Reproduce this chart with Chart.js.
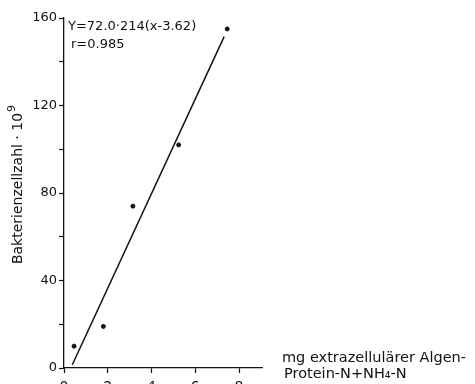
<!DOCTYPE html>
<html>
<head>
<meta charset="utf-8">
<script src="https://cdn.jsdelivr.net/npm/chart.js@4"></script>
<style>
  html, body { margin: 0; padding: 0; background: #fff; }
  canvas { display: block; }
</style>
</head>
<body>
<canvas id="chart" width="475" height="384"></canvas>
<script>
// measured points (x: mg N, y: cells 10^9)
const xValues = [0.46, 1.8, 3.15, 5.24, 7.46];
const yValues = [10, 19, 74, 102, 155];

// regression line end points
const lineX = [0.38, 7.32];
const lineY = [1.5, 151.5];

const xTicks = [0, 2, 4, 6, 8];
const yTicks = [0, 20, 40, 60, 80, 100, 120, 140, 160];
const yLabelled = [0, 40, 80, 120, 160];

const equationText = "Y=72.0·214(x-3.62)";
const rText = "r=0.985";
const yTitle = "Bakterienzellzahl · 10";
const yTitleSup = "9";
const xTitleLines = ["mg extrazellulärer Algen-", "Protein-N+NH₄-N"];

const font = "'DejaVu Sans', Arial, sans-serif";

const textPlugin = {
  id: "texts",
  afterDraw(chart) {
    const c = chart.ctx;
    c.save();
    c.fillStyle = "#111";
    c.textBaseline = "alphabetic";
    c.textAlign = "left";
    c.font = "13px " + font;
    c.fillText(equationText, 68, 30);
    c.fillText(rText, 71, 48);
    c.font = "14.5px " + font;
    c.fillText(xTitleLines[0], 282, 362);
    c.fillText(xTitleLines[1], 284, 378);

    // y axis title, rotated, with raised exponent
    c.translate(22, 185);
    c.rotate(-Math.PI / 2);
    c.font = "14px " + font;
    const w1 = c.measureText(yTitle).width;
    c.font = "11px " + font;
    const w2 = c.measureText(yTitleSup).width;
    const start = -(w1 + w2) / 2;
    c.font = "14px " + font;
    c.fillText(yTitle, start, 0);
    c.font = "11px " + font;
    c.fillText(yTitleSup, start + w1 + 1, -7);
    c.restore();
  }
};

new Chart(document.getElementById("chart"), {
  type: "scatter",
  data: {
    datasets: [
      {
        data: xValues.map((x, i) => ({ x, y: yValues[i] })),
        backgroundColor: "#111",
        borderColor: "#111",
        pointRadius: 2,
        pointStyle: "circle"
      },
      {
        type: "line",
        data: lineX.map((x, i) => ({ x, y: lineY[i] })),
        borderColor: "#111",
        borderWidth: 1.5,
        pointRadius: 0,
        fill: false
      }
    ]
  },
  plugins: [textPlugin],
  options: {
    responsive: false,
    animation: false,
    layout: { padding: { top: 18, right: 213, left: 0, bottom: 0 } },
    scales: {
      x: {
        type: "linear",
        min: 0,
        max: 9.05,
        afterBuildTicks: s => { s.ticks = xTicks.map(v => ({ value: v })); },
        afterFit: s => { s.height = 16; },
        border: { color: "#111", width: 1.3 },
        grid: { drawOnChartArea: false, drawTicks: true, tickLength: 5, color: "#111", tickWidth: 1.2 },
        ticks: { color: "#111", padding: 6, font: { family: font, size: 14 } }
      },
      y: {
        type: "linear",
        min: 0,
        max: 160,
        afterBuildTicks: s => { s.ticks = yTicks.map(v => ({ value: v })); },
        afterFit: s => { s.width = 64; },
        border: { color: "#111", width: 1.3 },
        grid: { drawOnChartArea: false, drawTicks: true, tickLength: 5, color: "#111", tickWidth: 1.2 },
        ticks: {
          color: "#111",
          padding: 2,
          font: { family: font, size: 13 },
          callback: v => yLabelled.includes(v) ? String(v) : ""
        }
      }
    },
    plugins: {
      legend: { display: false },
      tooltip: { enabled: false }
    }
  }
});
</script>
</body>
</html>
